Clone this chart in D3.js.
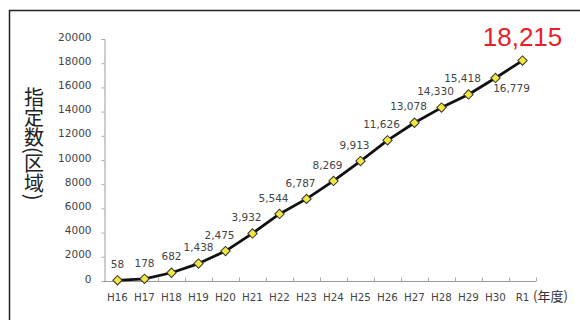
<!DOCTYPE html>
<html>
<head>
<meta charset="utf-8">
<script src="https://cdn.jsdelivr.net/npm/d3@7/dist/d3.min.js"></script>
<style>
  html, body { margin: 0; padding: 0; background: #fff; }
  svg { display: block; }
</style>
</head>
<body>
<svg id="chart" width="580" height="320"></svg>
<script>
// Fiscal years (Heisei 16 to Reiwa 1)
const years = ["H16","H17","H18","H19","H20","H21","H22","H23","H24","H25","H26","H27","H28","H29","H30","R1"];
// Cumulative number of designated areas per year
const counts = [58,178,682,1438,2475,3932,5544,6787,8269,9913,11626,13078,14330,15418,16779,18215];
// Y axis ticks
const yTicks = [0,2000,4000,6000,8000,10000,12000,14000,16000,18000,20000];
const yTitle = "指定数(区域)";
const xUnit = "(年度)";

const svg = d3.select("#chart");
const numFont = "'DejaVu Sans', Verdana, sans-serif";
const cjkFont = "'Noto Sans CJK JP', sans-serif";

// Outer frame (top and left edges visible)
svg.append("rect")
  .attr("x", 9.5).attr("y", 10.5)
  .attr("width", 600).attr("height", 340)
  .attr("fill", "none").attr("stroke", "#222").attr("stroke-width", 1.5);

const plot = { left: 104, right: 536, top: 39, bottom: 281 };

const x = d3.scaleBand().domain(years).range([plot.left, plot.right]).padding(0);
const cx = d => x(d) + x.bandwidth() / 2;
const y = d3.scaleLinear().domain([0, 20000]).range([plot.bottom, plot.top]);

// Y axis
const yAxis = svg.append("g")
  .attr("transform", `translate(${plot.left + 0.5},0)`)
  .call(d3.axisLeft(y).tickValues(yTicks).tickSize(3).tickPadding(10).tickFormat(d3.format("d")));
yAxis.select(".domain").attr("stroke", "#9a9a9a");
yAxis.selectAll(".tick line").attr("stroke", "#aaa");
yAxis.selectAll(".tick text")
  .attr("fill", "#444").attr("font-size", "10.5px").attr("font-family", numFont)
  .attr("dy", "0.1em");

// X axis: ticks at band boundaries, pointing into the plot
const xAxis = svg.append("g").attr("transform", `translate(0,${plot.bottom + 0.5})`);
xAxis.append("line")
  .attr("x1", plot.left).attr("x2", plot.right)
  .attr("stroke", "#9a9a9a");
xAxis.selectAll("line.tk")
  .data(years.map((d, i) => i + 1))
  .join("line").attr("class", "tk")
  .attr("x1", i => plot.left + i * x.bandwidth() + 0.5)
  .attr("x2", i => plot.left + i * x.bandwidth() + 0.5)
  .attr("y1", 0).attr("y2", -4)
  .attr("stroke", "#aaa");
xAxis.selectAll("text.xl")
  .data(years)
  .join("text").attr("class", "xl")
  .attr("x", d => cx(d)).attr("y", 19)
  .attr("text-anchor", "middle")
  .attr("fill", "#444").attr("font-size", "10.3px").attr("font-family", numFont)
  .text(d => d);
xAxis.append("text")
  .attr("x", plot.right - 3).attr("y", 19)
  .attr("fill", "#333").attr("font-size", "13px").attr("font-family", cjkFont)
  .text(xUnit);

// Y axis title, written vertically
svg.append("text")
  .attr("x", 34).attr("y", 87)
  .attr("writing-mode", "vertical-rl")
  .style("writing-mode", "vertical-rl")
  .attr("fill", "#222").attr("font-size", "20px").attr("font-family", cjkFont)
  .text(yTitle);

// Line
const line = d3.line().x((d, i) => cx(years[i])).y(d => y(d));
svg.append("path")
  .datum(counts)
  .attr("d", line)
  .attr("fill", "none").attr("stroke", "#111").attr("stroke-width", 2.8)
  .attr("stroke-linejoin", "round");

// Diamond markers
const diamond = d3.symbol().type(d3.symbolSquare).size(44);
svg.selectAll("path.mk")
  .data(counts)
  .join("path").attr("class", "mk")
  .attr("d", diamond)
  .attr("transform", (d, i) => `translate(${cx(years[i])},${y(d)}) rotate(45)`)
  .attr("fill", "#f3e63c").attr("stroke", "#333").attr("stroke-width", 1);

// Value labels
const n = counts.length;
const fmt = d3.format(",");
svg.selectAll("text.val")
  .data(counts.slice(0, n - 1))
  .join("text").attr("class", "val")
  .attr("x", (d, i) => cx(years[i]) + (i === n - 2 ? 16 : (i < 4 ? 0 : -6)))
  .attr("y", (d, i) => y(d) + (i === n - 2 ? 10 : -16))
  .attr("dy", "0.35em")
  .attr("text-anchor", "middle")
  .attr("fill", "#444").attr("font-size", "10.5px").attr("font-family", numFont)
  .text(d => fmt(d));

// Latest value, highlighted
svg.append("text")
  .attr("x", cx(years[n - 1])).attr("y", y(counts[n - 1]) - 15)
  .attr("text-anchor", "middle")
  .attr("fill", "#e8202a").attr("font-size", "26px")
  .attr("font-family", "'Liberation Sans', Arial, sans-serif")
  .text(fmt(counts[n - 1]));
</script>
</body>
</html>
